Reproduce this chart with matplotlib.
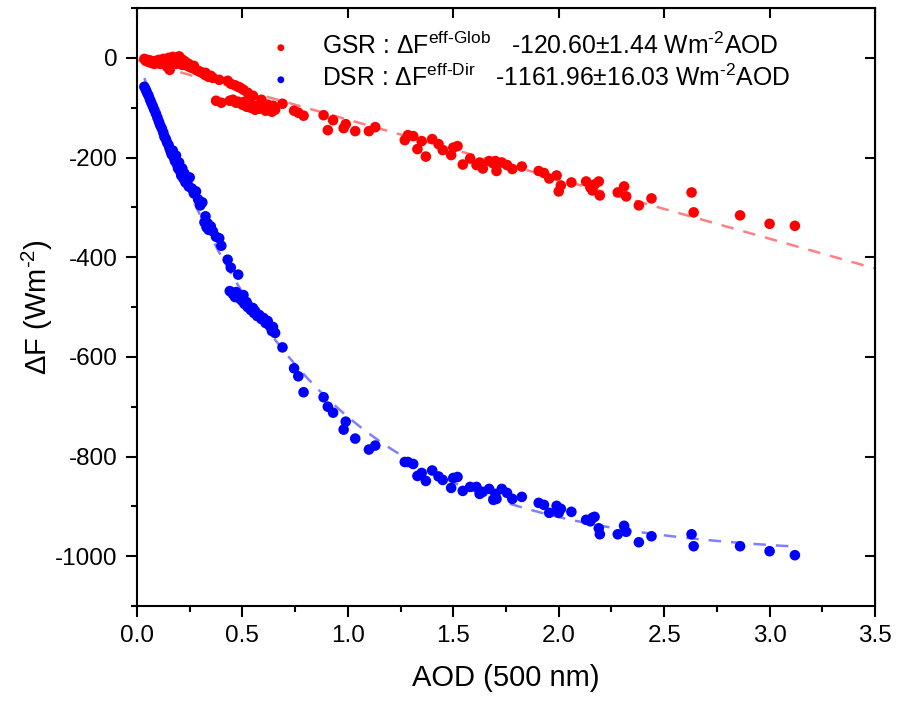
import numpy as np
import matplotlib.pyplot as plt

plt.rcParams['font.family'] = ['Liberation Sans', 'DejaVu Sans']
plt.rcParams['mathtext.fontset'] = 'custom'
plt.rcParams['mathtext.rm'] = 'Liberation Sans'
plt.rcParams['mathtext.it'] = 'Liberation Sans:italic'
plt.rcParams['axes.unicode_minus'] = False

# AOD (500 nm) shared by both series, with forcing values
aod = [0.035, 0.042, 0.048, 0.055, 0.062, 0.068, 0.075, 0.082, 0.09, 0.097,
       0.104, 0.11, 0.118, 0.125, 0.13, 0.137, 0.143, 0.15, 0.155, 0.16,
       0.165, 0.17, 0.175, 0.18, 0.185, 0.19, 0.195, 0.2, 0.205, 0.21,
       0.215, 0.22, 0.225, 0.23, 0.24, 0.245, 0.25, 0.26, 0.27, 0.28,
       0.29, 0.30, 0.31, 0.32, 0.325, 0.33, 0.335, 0.34, 0.35, 0.36,
       0.375, 0.39, 0.40, 0.43, 0.445, 0.48,
       0.44, 0.455, 0.465, 0.47, 0.48, 0.49, 0.50, 0.505, 0.51, 0.52,
       0.525, 0.53, 0.54, 0.55, 0.555, 0.56, 0.57, 0.58, 0.59, 0.60,
       0.61, 0.62, 0.63, 0.64, 0.645, 0.655,
       0.69, 0.745, 0.765, 0.79, 0.885, 0.905, 0.93, 0.98, 0.99, 1.035,
       1.10, 1.13, 1.27, 1.285, 1.31, 1.33, 1.35, 1.37, 1.40, 1.43,
       1.45, 1.49, 1.50, 1.52, 1.545, 1.58, 1.61, 1.625, 1.64, 1.67,
       1.69, 1.70, 1.705, 1.73, 1.755, 1.78, 1.825, 1.905, 1.93, 1.955,
       1.99, 2.00, 2.01, 2.06, 2.13, 2.15, 2.16, 2.17, 2.19, 2.195,
       2.28, 2.31, 2.32, 2.38, 2.44, 2.63, 2.64, 2.86, 3.00, 3.12]

gsr = [-2, -6, -4, -8, -5, -10, -7, -12, -6, -9,
       -4, -12, -6, -2, -10, -3, -18, 0, -24, -4,
       -8, 2, -6, -1, -12, -4, -9, 3, -7, -2,
       -14, -5, -10, -8, -16, -12, -18, -20, -16, -24,
       -26, -28, -30, -33, -30, -35, -36, -38, -36, -40,
       -86, -44, -90, -46, -52, -58,
       -86, -84, -55, -90, -88, -60, -94, -64, -88, -98,
       -70, -92, -100, -76, -96, -104, -98, -102, -84, -100,
       -106, -94, -100, -108, -96, -104,
       -92, -106, -110, -116, -115, -145, -125, -141, -133, -147,
       -147, -139, -165, -155, -157, -183, -167, -198, -163, -173,
       -185, -195, -180, -177, -214, -202, -215, -210, -222, -207,
       -212, -207, -227, -210, -215, -223, -218, -227, -231, -242,
       -236, -268, -256, -250, -248, -260, -266, -254, -248, -276,
       -270, -258, -278, -296, -282, -270, -310, -316, -333, -337]

dsr = [-58, -64, -70, -76, -84, -90, -97, -104, -112, -120,
       -128, -135, -142, -150, -158, -163, -170, -175, -182, -188,
       -194, -186, -200, -207, -196, -214, -222, -210, -228, -236,
       -222, -242, -232, -250, -246, -258, -240, -262, -272, -268,
       -284, -296, -290, -330, -318, -340, -332, -345, -338, -348,
       -359, -362, -377, -405, -421, -435,
       -468, -474, -480, -470, -478, -484, -488, -476, -494, -490,
       -500, -498, -506, -502, -512, -508, -518, -516, -524, -522,
       -532, -528, -538, -548, -540, -552,
       -581, -623, -639, -671, -681, -700, -712, -746, -730, -764,
       -786, -778, -811, -811, -815, -839, -833, -849, -828, -840,
       -847, -863, -843, -841, -869, -861, -861, -875, -871, -865,
       -887, -875, -885, -865, -873, -885, -881, -893, -897, -913,
       -899, -913, -905, -911, -927, -930, -923, -921, -944, -956,
       -956, -939, -951, -972, -960, -956, -980, -980, -990, -998]

gsr_label = 'GSR : ΔF$^{\\mathregular{eff\u2010Glob}}$   -120.60±1.44 Wm$^{\\mathregular{\u20102}}$AOD'
dsr_label = 'DSR : ΔF$^{\\mathregular{eff\u2010Dir}}$   -1161.96±16.03 Wm$^{\\mathregular{\u20102}}$AOD'

x = np.array(aod)
g = np.array(gsr)
d = np.array(dsr)

# linear fit for GSR
p = np.polyfit(x, g, 1)
xg = np.linspace(0, 3.5, 200)

# decay fit for DSR: y = y0 + A*exp(-x/t) + c*x
best = None
for t in np.linspace(0.2, 3.0, 281):
    M = np.column_stack([np.ones_like(x), np.exp(-x / t), x])
    coef, res, _, _ = np.linalg.lstsq(M, d, rcond=None)
    err = np.sum((M @ coef - d) ** 2)
    if best is None or err < best[0]:
        best = (err, t, coef)
_, tb, cb = best
xd = np.linspace(x.min(), x.max(), 200)
yd = cb[0] + cb[1] * np.exp(-xd / tb) + cb[2] * xd

fig = plt.figure(figsize=(8.97, 7.01), dpi=100)
ax = fig.add_axes([0.1527, 0.1355, 0.8228, 0.853])

ax.plot(xg, np.polyval(p, xg), color='#ff8080', lw=1.8, dashes=(5, 4), zorder=1)
ax.plot(xd, yd, color='#8080ff', lw=1.8, dashes=(5, 4), zorder=1)
ax.scatter(x, g, s=58, color='#ff0000', edgecolors='none', zorder=2, label=gsr_label)
ax.scatter(x, d, s=58, color='#0000ff', edgecolors='none', zorder=2, label=dsr_label)

ax.set_xlim(0, 3.5)
ax.set_ylim(-1100, 100)
ax.set_xticks(np.arange(0, 3.51, 0.5))
ax.set_xticks(np.arange(0, 3.51, 0.25), minor=True)
ax.set_yticks(np.arange(-1000, 1, 200))
ax.set_yticks(np.arange(-1100, 101, 100), minor=True)
ax.set_xticklabels(['%.1f' % v for v in np.arange(0, 3.51, 0.5)])
ax.tick_params(which='major', direction='out', length=8, width=1.5, labelsize=17.5, pad=6)
ax.tick_params(which='minor', direction='out', length=4, width=1.5)
for s in ax.spines.values():
    s.set_linewidth(1.5)

top = ax.secondary_xaxis('top')
top.set_xticks(np.arange(0, 3.51, 0.5))
top.tick_params(direction='in', length=7, width=1.5, labeltop=False)
right = ax.secondary_yaxis('right')
right.set_yticks(np.arange(-1000, 1, 200))
right.tick_params(direction='in', length=7, width=1.5, labelright=False)

ax.set_xlabel('AOD (500 nm)', fontsize=21, labelpad=12)
ax.set_ylabel('ΔF (Wm$^{\\mathregular{\u20102}}$)', fontsize=21, labelpad=0)

ax.legend(loc='upper left', bbox_to_anchor=(0.148, 0.997), frameon=False,
          fontsize=17.8, markerscale=0.65, handlelength=1.0, handletextpad=1.15,
          labelspacing=0.2, borderpad=0.4)

plt.savefig('out.png', dpi=100)
